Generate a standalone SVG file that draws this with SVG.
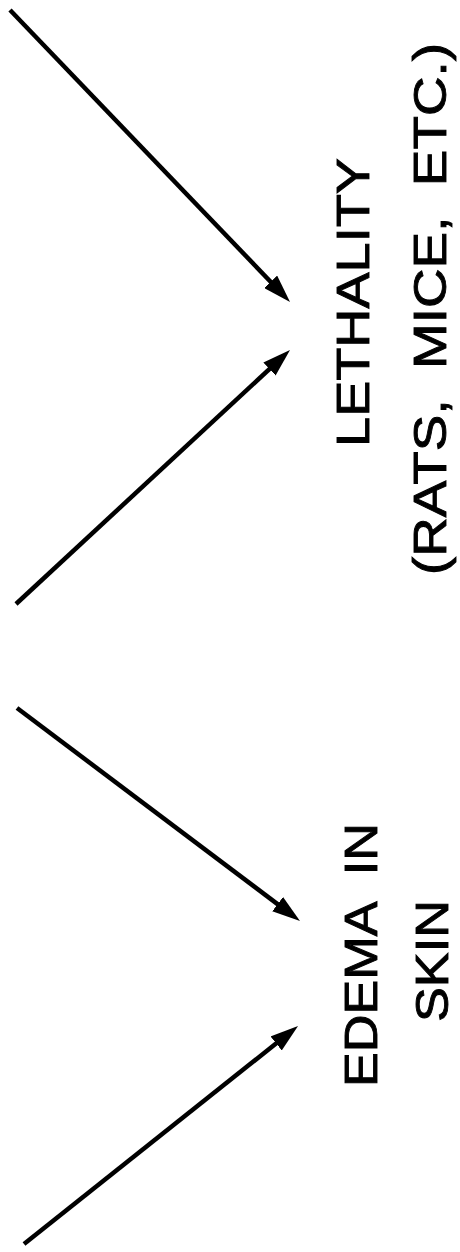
<svg xmlns="http://www.w3.org/2000/svg" width="460" height="1252" viewBox="0 0 460 1252">
<style>
.lbl{font-family:"Liberation Sans",Arial,sans-serif;font-size:46px;fill:#000;stroke:#000;stroke-width:0.9;text-anchor:middle;white-space:pre}
.conn{stroke:#000;stroke-width:4.5;fill:none;stroke-linecap:butt}
</style>
<defs>
<marker id="ah" viewBox="0 0 28 18" refX="19" refY="9" markerWidth="28" markerHeight="18" markerUnits="userSpaceOnUse" orient="auto">
<path d="M0,0 L28,9 L0,18 z" fill="#000"/>
</marker>
</defs>
<rect width="460" height="1252" fill="#fff"/>
<g id="connectors">
<line class="conn" x1="10" y1="10" x2="283.8" y2="295.5" marker-end="url(#ah)"/>
<line class="conn" x1="16" y1="604" x2="283.4" y2="356.1" marker-end="url(#ah)"/>
<line class="conn" x1="17" y1="708" x2="292.8" y2="915.6" marker-end="url(#ah)"/>
<line class="conn" x1="24" y1="1244" x2="291" y2="1031.6" marker-end="url(#ah)"/>
</g>
<g id="lethality">
<text class="lbl" x="369" y="302.5" transform="rotate(-90 369 302.5)" textLength="289" lengthAdjust="spacingAndGlyphs">LETHALITY</text>
<text class="lbl" x="446" y="309" transform="rotate(-90 446 309)" textLength="532" lengthAdjust="spacingAndGlyphs" xml:space="preserve">(RATS,  MICE,  ETC.)</text>
</g>
<g id="edema">
<text class="lbl" x="377" y="955" transform="rotate(-90 377 955)" textLength="264" lengthAdjust="spacingAndGlyphs" xml:space="preserve">EDEMA  IN</text>
<text class="lbl" x="448" y="961" transform="rotate(-90 448 961)" textLength="122" lengthAdjust="spacingAndGlyphs">SKIN</text>
</g>
</svg>
